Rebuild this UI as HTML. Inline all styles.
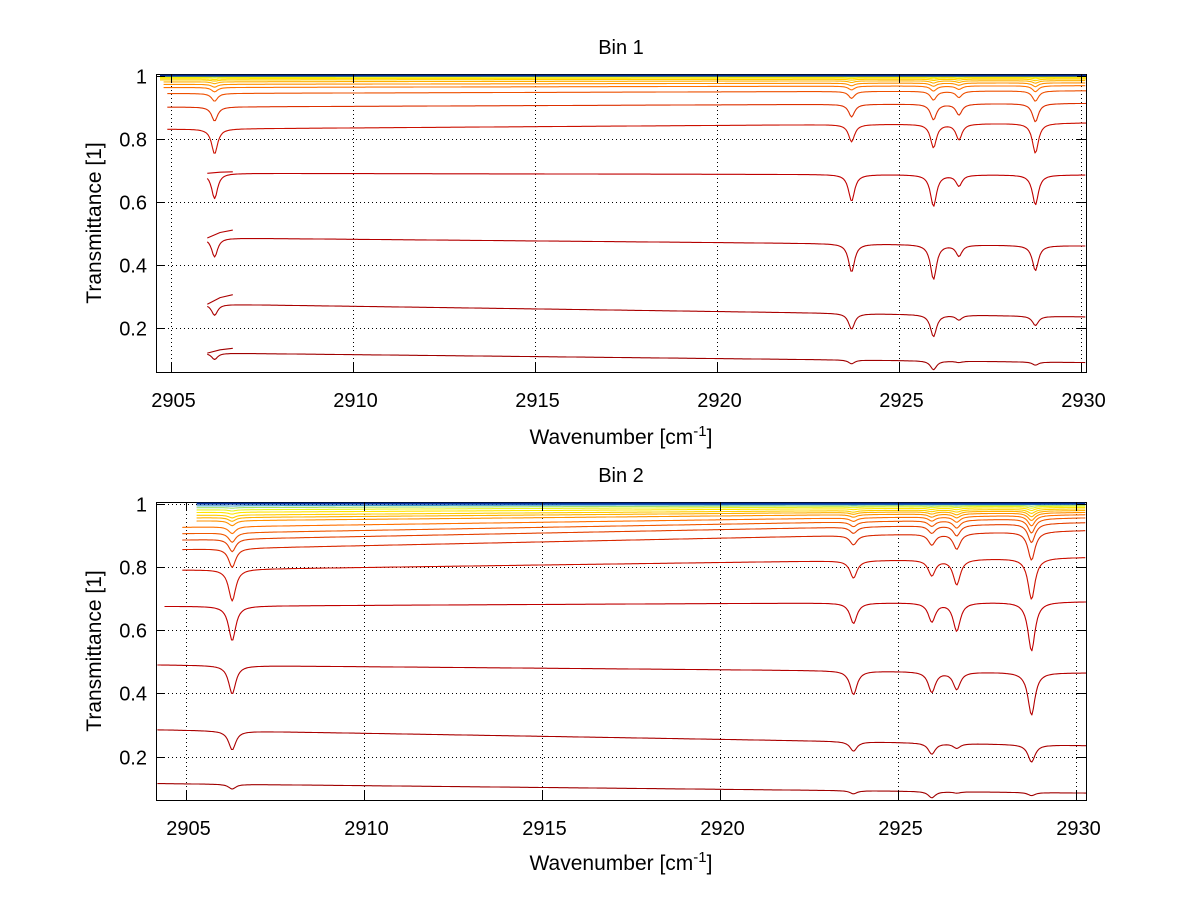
<!DOCTYPE html>
<html><head><meta charset="utf-8"><title>Transmittance spectra</title>
<style>
html,body{margin:0;padding:0;background:#fff;}
svg{display:block;font-family:"Liberation Sans",sans-serif;}
</style></head>
<body>
<svg id="fig" width="1200" height="901" viewBox="0 0 1200 901">
<rect width="1200" height="901" fill="#fff"/>
</svg>
<script>
// ---- Data ----
const xTicks = [2905, 2910, 2915, 2920, 2925, 2930];
const xTickLabels = ["2905", "2910", "2915", "2920", "2925", "2930"];
const yTicks = [0.2, 0.4, 0.6, 0.8, 1];
const yTickLabels = ["0.2", "0.4", "0.6", "0.8", "1"];

// Bin 1 peak centres
const bin1Peaks = [2906.2, 2923.7, 2925.95, 2926.65, 2928.75];
const bin1Start = [2906.0, 2906.0, 2906.0, 2906.0, 2904.9, 2904.9, 2904.9, 2904.8, 2904.8, 2904.8, 2904.7, 2904.7, 2904.7, 2904.7, 2904.7, 2904.7];
const bin1Left  = [0.12, 0.275, 0.485, 0.69, 0.83, 0.90, 0.943, 0.962, 0.972, 0.98, 0.986, 0.99, 0.994, 0.997, 0.999, 1.0];
const bin1Right = [0.09, 0.235, 0.46, 0.685, 0.85, 0.912, 0.952, 0.968, 0.977, 0.984, 0.989, 0.993, 0.996, 0.998, 0.999, 1.0];
const bin1Depths = [
  [0.02, 0.012, 0.028, 0.004, 0.01],
  [0.035, 0.05, 0.07, 0.015, 0.03],
  [0.06, 0.09, 0.11, 0.035, 0.08],
  [0.08, 0.085, 0.1, 0.035, 0.095],
  [0.08, 0.055, 0.075, 0.05, 0.095],
  [0.045, 0.04, 0.05, 0.035, 0.058],
  [0.025, 0.022, 0.028, 0.02, 0.033],
  [0.014, 0.012, 0.016, 0.011, 0.019],
  [0.009, 0.008, 0.01, 0.007, 0.012],
  [0.006, 0.005, 0.007, 0.005, 0.008],
  [0.004, 0.003, 0.004, 0.003, 0.005],
  [0.003, 0.002, 0.003, 0.002, 0.003],
  [0.002, 0.001, 0.002, 0.001, 0.002],
  [0.001, 0.001, 0.001, 0.001, 0.001],
  [0, 0, 0, 0, 0],
  [0, 0, 0, 0, 0]
];
const bin1Hook = [0.015, 0.03, 0.025, 0.005, 0, 0, 0, 0, 0, 0, 0, 0, 0, 0, 0, 0];
const bin1Colors = ['#a00000','#aa0000','#b40000','#c00000','#cc1000','#dd3000','#ee5000','#ff7000','#ff9000','#ffb000','#ffcc00','#ffe400','#f4f000','#a0e060','#3090d0','#002890'];

// Bin 2
const bin2Peaks = [2906.3, 2923.75, 2925.95, 2926.65, 2928.75];
const bin2Start = [2904.2, 2904.2, 2904.2, 2904.4, 2904.9, 2904.9, 2904.9, 2904.9, 2904.9, 2905.3, 2905.3, 2905.3, 2905.3, 2905.3, 2905.3, 2905.3, 2905.3];
const bin2Left  = [0.115, 0.285, 0.49, 0.675, 0.79, 0.855, 0.885, 0.905, 0.925, 0.945, 0.955, 0.963, 0.972, 0.98, 0.987, 0.993, 1.0];
const bin2Right = [0.085, 0.235, 0.465, 0.69, 0.83, 0.915, 0.94, 0.955, 0.965, 0.972, 0.978, 0.983, 0.988, 0.992, 0.995, 0.998, 1.0];
const bin2Depths = [
  [0.015, 0.01, 0.02, 0.004, 0.01],
  [0.06, 0.03, 0.035, 0.015, 0.055],
  [0.09, 0.075, 0.065, 0.055, 0.135],
  [0.11, 0.065, 0.06, 0.09, 0.155],
  [0.1, 0.055, 0.05, 0.08, 0.13],
  [0.06, 0.03, 0.035, 0.05, 0.09],
  [0.04, 0.02, 0.024, 0.034, 0.06],
  [0.03, 0.015, 0.018, 0.025, 0.045],
  [0.022, 0.011, 0.013, 0.018, 0.033],
  [0.016, 0.008, 0.01, 0.013, 0.024],
  [0.012, 0.006, 0.007, 0.01, 0.018],
  [0.009, 0.005, 0.005, 0.007, 0.013],
  [0.006, 0.003, 0.004, 0.005, 0.009],
  [0.004, 0.002, 0.003, 0.003, 0.006],
  [0.002, 0.001, 0.002, 0.002, 0.003],
  [0.001, 0.001, 0.001, 0.001, 0.001],
  [0, 0, 0, 0, 0]
];
const bin2Hook = [0,0,0,0,0,0,0,0,0,0,0,0,0,0,0,0,0];
const bin2Colors = ['#a00000','#aa0000','#b40000','#c00000','#cc1000','#d82800','#e44000','#f05800','#ff7000','#ff9000','#ffb000','#ffcc00','#ffe400','#e8f020','#a0e070','#40a0d0','#0030a0'];

// ---- Rendering ----
const NS = "http://www.w3.org/2000/svg";
const svg = document.getElementById('fig');
function el(tag, attrs, parent){
  const e = document.createElementNS(NS, tag);
  for (const k in attrs) e.setAttribute(k, attrs[k]);
  (parent||svg).appendChild(e);
  return e;
}

function drawPanel(cfg){
  const {L,R,T,B,x0,x1,y0,y1,title,titleY,xlabY,peaks,starts,lefts,rights,depths,hooks,colors,width,name} = cfg;
  const g = el('g', {}, svg);
  
  
  const sx = v => L + (v - x0) / (x1 - x0) * (R - L);
  const sy = v => B - (v - y0) / (y1 - y0) * (B - T);

  const grid = el('g', {stroke:'#000','stroke-width':1,'stroke-dasharray':'1,3'}, g);
  
  
  xTicks.forEach(t => { const x = Math.round(sx(t))+0.5; el('line',{x1:x,x2:x,y1:T,y2:B},grid); });
  yTicks.forEach(t => { const y = Math.round(sy(t))+0.5; el('line',{x1:L,x2:R,y1:y,y2:y},grid); });

  const box = el('rect', {x:L+0.5,y:T+0.5,width:R-L,height:B-T,fill:'none',stroke:'#000','stroke-width':1}, g);
  
  

  const n = starts.length;
  const curves = el('g', {fill:'none','stroke-width':1.1,'stroke-linejoin':'round'}, g);
  
  
  for (let i = 0; i < n; i++){
    const col = colors[i];
    let pts = [];
    const xs = starts[i], xe = x1;
    for (let w = xs; w <= xe + 1e-9; w += 0.04){
      let base = lefts[i] + (rights[i]-lefts[i]) * (w - xs) / (xe - xs);
      let v = base;
      peaks.forEach((p, k) => {
        const d = (w - p) / width;
        v -= depths[i][k] / (1 + d*d);
      });
      pts.push(sx(w).toFixed(1) + ',' + sy(v).toFixed(1));
    }
    const pl = el('polyline', {points: pts.join(' '), stroke: col}, curves);
    if (i === n-1) pl.setAttribute('stroke-width', 2);
    
    
    if (hooks[i] > 0){
      const h = el('polyline', {points: sx(xs).toFixed(1)+','+sy(lefts[i]).toFixed(1)+' '+sx(xs+0.35).toFixed(1)+','+sy(lefts[i]+hooks[i]*0.7).toFixed(1)+' '+sx(xs+0.7).toFixed(1)+','+sy(lefts[i]+hooks[i]).toFixed(1), stroke: col}, curves);
      
      
    }
  }

  const tk = el('g', {stroke:'#000','stroke-width':1}, g);
  
  
  xTicks.forEach((t, i) => {
    const x = Math.round(sx(t))+0.5;
    el('line',{x1:x,x2:x,y1:B,y2:B-9},tk);
    el('line',{x1:x,x2:x,y1:T,y2:T+9},tk);
    const lb = el('text',{x:x+2,y:B+35,'font-size':20,'text-anchor':'middle',fill:'#000'},g);
    lb.textContent = xTickLabels[i];
    
    
  });
  yTicks.forEach((t, i) => {
    const y = Math.round(sy(t))+0.5;
    el('line',{x1:L,x2:L+9,y1:y,y2:y},tk);
    el('line',{x1:R-9,x2:R,y1:y,y2:y},tk);
    const lb = el('text',{x:L-9,y:y+7,'font-size':20,'text-anchor':'end',fill:'#000'},g);
    lb.textContent = yTickLabels[i];
    
    
  });

  const tt = el('text',{x:(L+R)/2,y:titleY,'font-size':20,'text-anchor':'middle',fill:'#000'},g);
  tt.textContent = title;
  
  

  const xl = el('text',{x:(L+R)/2,y:xlabY,'font-size':21,'text-anchor':'middle',fill:'#000'},g);
  xl.innerHTML = 'Wavenumber [cm<tspan dy="-8" font-size="15">-1</tspan><tspan dy="8">]</tspan>';
  
  

  const cy = (T+B)/2;
  const yl = el('text',{x:0,y:0,'font-size':21,'text-anchor':'middle',fill:'#000',transform:`translate(101,${cy}) rotate(-90)`},g);
  yl.textContent = 'Transmittance [1]';
  
  
}

drawPanel({name:'bin-1-panel',L:156,R:1086,T:74,B:372,x0:2904.59,x1:2930.14,y0:0.06,y1:1.005,
  title:'Bin 1',titleY:54,xlabY:444,peaks:bin1Peaks,starts:bin1Start,lefts:bin1Left,rights:bin1Right,
  depths:bin1Depths,hooks:bin1Hook,colors:bin1Colors,width:0.1});
drawPanel({name:'bin-2-panel',L:156,R:1086,T:502,B:800,x0:2904.16,x1:2930.28,y0:0.063,y1:1.005,
  title:'Bin 2',titleY:482,xlabY:870,peaks:bin2Peaks,starts:bin2Start,lefts:bin2Left,rights:bin2Right,
  depths:bin2Depths,hooks:bin2Hook,colors:bin2Colors,width:0.12});
</script>
</body></html>
